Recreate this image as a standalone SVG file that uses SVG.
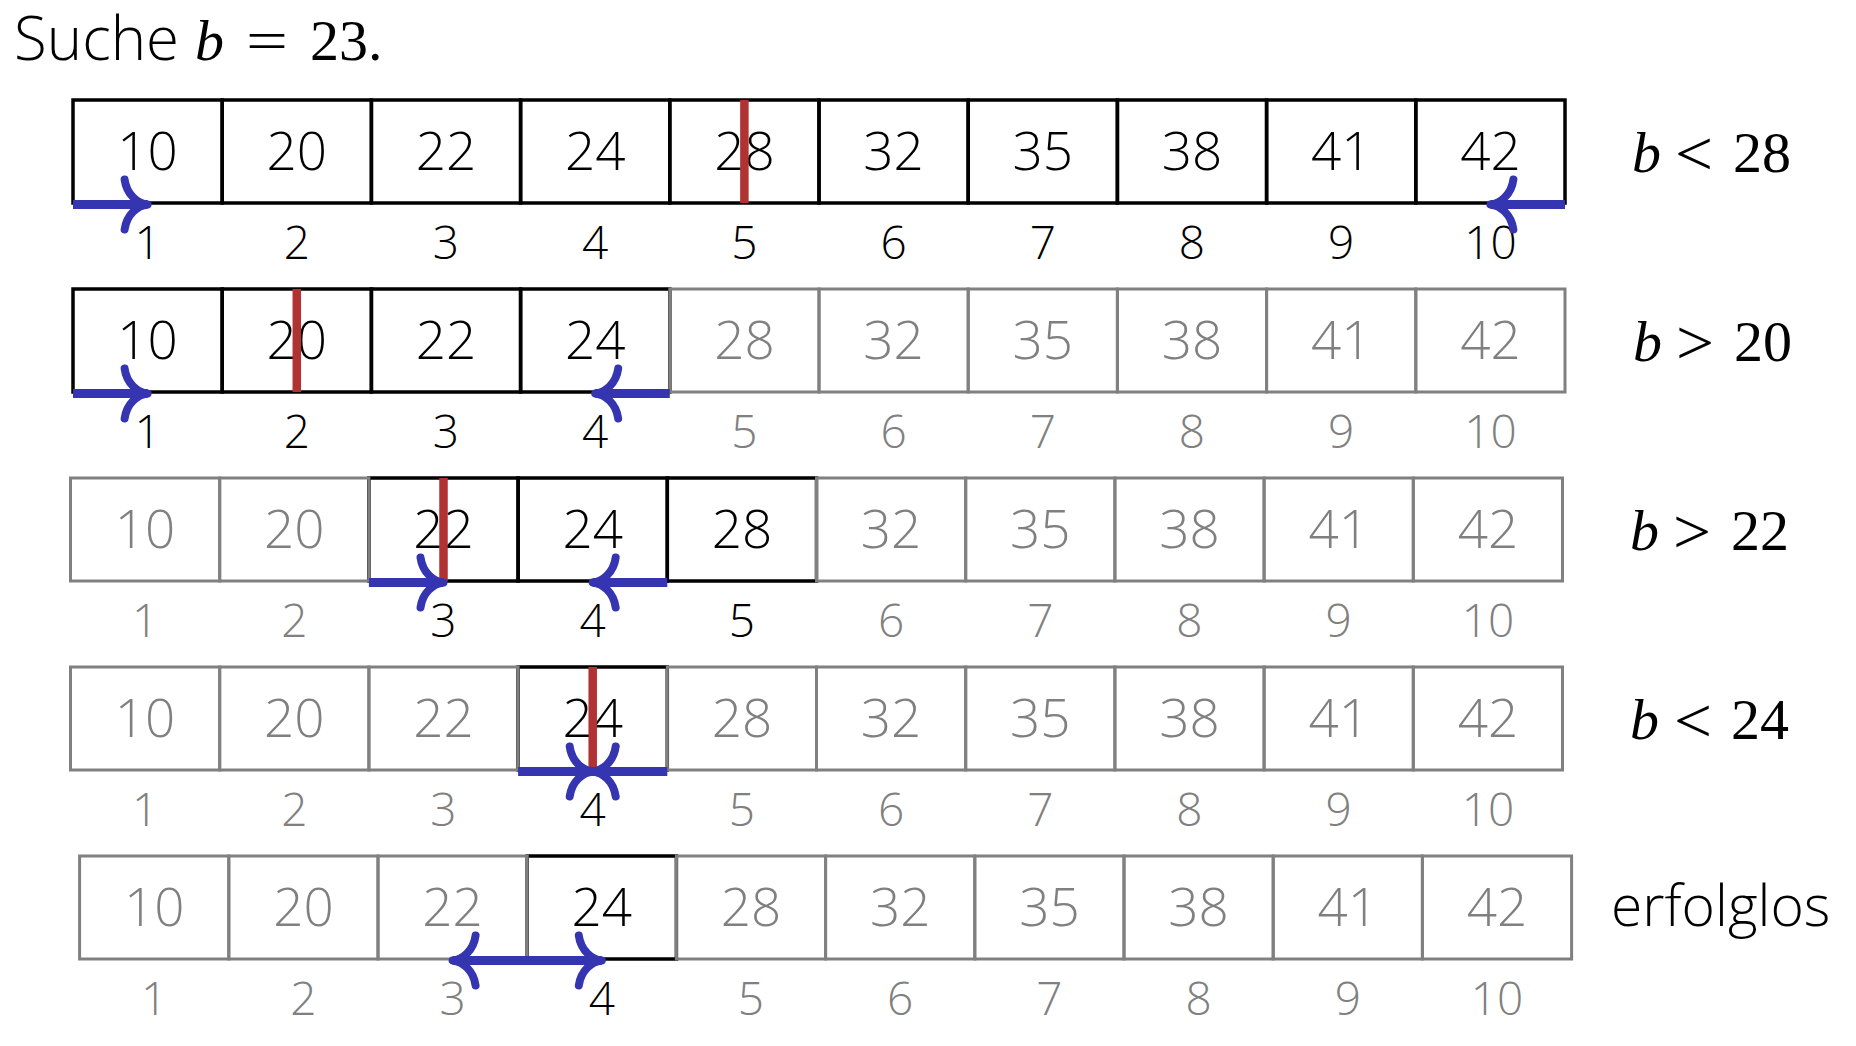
<svg xmlns="http://www.w3.org/2000/svg" width="1856" height="1046" viewBox="0 0 1856 1046">
<style>
.cb{fill:none;stroke:#000;stroke-width:3.5}
.cg{fill:none;stroke:#808080;stroke-width:3}
.v{font-family:"Open Sans","Noto Sans",sans-serif;font-weight:300;font-size:53px;text-anchor:middle}
.i{font-family:"Open Sans","Noto Sans",sans-serif;font-weight:300;font-size:46px;text-anchor:middle}
.k{fill:#000}
.g{fill:#808080}
.m{font-family:"Liberation Serif",serif;font-size:58px;fill:#000}
.it{font-style:italic}
.rel{font-family:"Liberation Serif",serif;font-size:64px;fill:#000}
.sans{font-family:"Open Sans","Noto Sans",sans-serif;font-weight:300;fill:#000}
.red{stroke:#b03232;stroke-width:8.5}
.arr{stroke:#3535b2;stroke-width:9;fill:none}
</style>
<defs>
<marker id="tip" viewBox="-32 -32 44 64" markerWidth="44" markerHeight="64" refX="0" refY="0" orient="auto-start-reverse" markerUnits="userSpaceOnUse" overflow="visible">
<path d="M-23,-25 C-21,-10 -10,-1 0,0 C-10,1 -21,10 -23,25" fill="none" stroke="#3535b2" stroke-width="8" stroke-linecap="round" stroke-linejoin="round"/>
</marker>
</defs>
<rect width="1856" height="1046" fill="#fff"/>

<g id="title">
<text class="sans" x="14" y="60" font-size="60">Suche</text>
<text class="m it" x="195" y="60" font-size="66">b</text>
<text class="m" x="246" y="60" font-size="62" textLength="42" lengthAdjust="spacingAndGlyphs">=</text>
<text class="m" x="310" y="60" font-size="62">23.</text>
</g>

<!-- Row 1 -->
<g id="row1">
<g id="r1c1"><rect class="cb" x="73" y="100" width="149.2" height="103"/><text class="v k" x="147.6" y="170">10</text><text class="i k" x="147.6" y="259">1</text></g>
<g id="r1c2"><rect class="cb" x="222.2" y="100" width="149.2" height="103"/><text class="v k" x="296.8" y="170">20</text><text class="i k" x="296.8" y="259">2</text></g>
<g id="r1c3"><rect class="cb" x="371.4" y="100" width="149.2" height="103"/><text class="v k" x="446" y="170">22</text><text class="i k" x="446" y="259">3</text></g>
<g id="r1c4"><rect class="cb" x="520.6" y="100" width="149.2" height="103"/><text class="v k" x="595.2" y="170">24</text><text class="i k" x="595.2" y="259">4</text></g>
<g id="r1c5"><rect class="cb" x="669.8" y="100" width="149.2" height="103"/><text class="v k" x="744.4" y="170">28</text><text class="i k" x="744.4" y="259">5</text></g>
<g id="r1c6"><rect class="cb" x="819" y="100" width="149.2" height="103"/><text class="v k" x="893.6" y="170">32</text><text class="i k" x="893.6" y="259">6</text></g>
<g id="r1c7"><rect class="cb" x="968.2" y="100" width="149.2" height="103"/><text class="v k" x="1042.8" y="170">35</text><text class="i k" x="1042.8" y="259">7</text></g>
<g id="r1c8"><rect class="cb" x="1117.4" y="100" width="149.2" height="103"/><text class="v k" x="1192" y="170">38</text><text class="i k" x="1192" y="259">8</text></g>
<g id="r1c9"><rect class="cb" x="1266.6" y="100" width="149.2" height="103"/><text class="v k" x="1341.2" y="170">41</text><text class="i k" x="1341.2" y="259">9</text></g>
<g id="r1c10"><rect class="cb" x="1415.8" y="100" width="149.2" height="103"/><text class="v k" x="1490.4" y="170">42</text><text class="i k" x="1490.4" y="259">10</text></g>
<g id="r1label"><text class="m it" x="1632" y="172">b</text><text class="rel" x="1675" y="175" textLength="38" lengthAdjust="spacingAndGlyphs">&lt;</text><text class="m" x="1733" y="172">28</text></g>
</g>

<!-- Row 2 -->
<g id="row2">
<g id="r2c1"><rect class="cb" x="73" y="289" width="149.2" height="103"/><text class="v k" x="147.6" y="359">10</text><text class="i k" x="147.6" y="448">1</text></g>
<g id="r2c2"><rect class="cb" x="222.2" y="289" width="149.2" height="103"/><text class="v k" x="296.8" y="359">20</text><text class="i k" x="296.8" y="448">2</text></g>
<g id="r2c3"><rect class="cb" x="371.4" y="289" width="149.2" height="103"/><text class="v k" x="446" y="359">22</text><text class="i k" x="446" y="448">3</text></g>
<g id="r2c4"><rect class="cb" x="520.6" y="289" width="149.2" height="103"/><text class="v k" x="595.2" y="359">24</text><text class="i k" x="595.2" y="448">4</text></g>
<g id="r2c5"><rect class="cg" x="669.8" y="289" width="149.2" height="103"/><text class="v g" x="744.4" y="359">28</text><text class="i g" x="744.4" y="448">5</text></g>
<g id="r2c6"><rect class="cg" x="819" y="289" width="149.2" height="103"/><text class="v g" x="893.6" y="359">32</text><text class="i g" x="893.6" y="448">6</text></g>
<g id="r2c7"><rect class="cg" x="968.2" y="289" width="149.2" height="103"/><text class="v g" x="1042.8" y="359">35</text><text class="i g" x="1042.8" y="448">7</text></g>
<g id="r2c8"><rect class="cg" x="1117.4" y="289" width="149.2" height="103"/><text class="v g" x="1192" y="359">38</text><text class="i g" x="1192" y="448">8</text></g>
<g id="r2c9"><rect class="cg" x="1266.6" y="289" width="149.2" height="103"/><text class="v g" x="1341.2" y="359">41</text><text class="i g" x="1341.2" y="448">9</text></g>
<g id="r2c10"><rect class="cg" x="1415.8" y="289" width="149.2" height="103"/><text class="v g" x="1490.4" y="359">42</text><text class="i g" x="1490.4" y="448">10</text></g>
<g id="r2label"><text class="m it" x="1633" y="361">b</text><text class="rel" x="1676" y="364" textLength="38" lengthAdjust="spacingAndGlyphs">&gt;</text><text class="m" x="1734" y="361">20</text></g>
</g>

<!-- Row 3 -->
<g id="row3">
<g id="r3c3"><rect class="cb" x="368.9" y="478" width="149.2" height="103"/><text class="v k" x="443.5" y="548">22</text><text class="i k" x="443.5" y="637">3</text></g>
<g id="r3c4"><rect class="cb" x="518.1" y="478" width="149.2" height="103"/><text class="v k" x="592.7" y="548">24</text><text class="i k" x="592.7" y="637">4</text></g>
<g id="r3c5"><rect class="cb" x="667.3" y="478" width="149.2" height="103"/><text class="v k" x="741.9" y="548">28</text><text class="i k" x="741.9" y="637">5</text></g>
<g id="r3c1"><rect class="cg" x="70.5" y="478" width="149.2" height="103"/><text class="v g" x="145.1" y="548">10</text><text class="i g" x="145.1" y="637">1</text></g>
<g id="r3c2"><rect class="cg" x="219.7" y="478" width="149.2" height="103"/><text class="v g" x="294.3" y="548">20</text><text class="i g" x="294.3" y="637">2</text></g>
<g id="r3c6"><rect class="cg" x="816.5" y="478" width="149.2" height="103"/><text class="v g" x="891.1" y="548">32</text><text class="i g" x="891.1" y="637">6</text></g>
<g id="r3c7"><rect class="cg" x="965.7" y="478" width="149.2" height="103"/><text class="v g" x="1040.3" y="548">35</text><text class="i g" x="1040.3" y="637">7</text></g>
<g id="r3c8"><rect class="cg" x="1114.9" y="478" width="149.2" height="103"/><text class="v g" x="1189.5" y="548">38</text><text class="i g" x="1189.5" y="637">8</text></g>
<g id="r3c9"><rect class="cg" x="1264.1" y="478" width="149.2" height="103"/><text class="v g" x="1338.7" y="548">41</text><text class="i g" x="1338.7" y="637">9</text></g>
<g id="r3c10"><rect class="cg" x="1413.3" y="478" width="149.2" height="103"/><text class="v g" x="1487.9" y="548">42</text><text class="i g" x="1487.9" y="637">10</text></g>
<g id="r3label"><text class="m it" x="1630" y="550">b</text><text class="rel" x="1673" y="553" textLength="38" lengthAdjust="spacingAndGlyphs">&gt;</text><text class="m" x="1731" y="550">22</text></g>
</g>

<!-- Row 4 -->
<g id="row4">
<g id="r4c4"><rect class="cb" x="518.1" y="667" width="149.2" height="103"/><text class="v k" x="592.7" y="737">24</text><text class="i k" x="592.7" y="826">4</text></g>
<g id="r4c1"><rect class="cg" x="70.5" y="667" width="149.2" height="103"/><text class="v g" x="145.1" y="737">10</text><text class="i g" x="145.1" y="826">1</text></g>
<g id="r4c2"><rect class="cg" x="219.7" y="667" width="149.2" height="103"/><text class="v g" x="294.3" y="737">20</text><text class="i g" x="294.3" y="826">2</text></g>
<g id="r4c3"><rect class="cg" x="368.9" y="667" width="149.2" height="103"/><text class="v g" x="443.5" y="737">22</text><text class="i g" x="443.5" y="826">3</text></g>
<g id="r4c5"><rect class="cg" x="667.3" y="667" width="149.2" height="103"/><text class="v g" x="741.9" y="737">28</text><text class="i g" x="741.9" y="826">5</text></g>
<g id="r4c6"><rect class="cg" x="816.5" y="667" width="149.2" height="103"/><text class="v g" x="891.1" y="737">32</text><text class="i g" x="891.1" y="826">6</text></g>
<g id="r4c7"><rect class="cg" x="965.7" y="667" width="149.2" height="103"/><text class="v g" x="1040.3" y="737">35</text><text class="i g" x="1040.3" y="826">7</text></g>
<g id="r4c8"><rect class="cg" x="1114.9" y="667" width="149.2" height="103"/><text class="v g" x="1189.5" y="737">38</text><text class="i g" x="1189.5" y="826">8</text></g>
<g id="r4c9"><rect class="cg" x="1264.1" y="667" width="149.2" height="103"/><text class="v g" x="1338.7" y="737">41</text><text class="i g" x="1338.7" y="826">9</text></g>
<g id="r4c10"><rect class="cg" x="1413.3" y="667" width="149.2" height="103"/><text class="v g" x="1487.9" y="737">42</text><text class="i g" x="1487.9" y="826">10</text></g>
<g id="r4label"><text class="m it" x="1630" y="739">b</text><text class="rel" x="1674" y="742" textLength="38" lengthAdjust="spacingAndGlyphs">&lt;</text><text class="m" x="1731" y="739">24</text></g>
</g>

<!-- Row 5 -->
<g id="row5">
<g id="r5c4"><rect class="cb" x="527.2" y="856" width="149.2" height="103"/><text class="v k" x="601.8" y="926">24</text><text class="i k" x="601.8" y="1015">4</text></g>
<g id="r5c1"><rect class="cg" x="79.6" y="856" width="149.2" height="103"/><text class="v g" x="154.2" y="926">10</text><text class="i g" x="154.2" y="1015">1</text></g>
<g id="r5c2"><rect class="cg" x="228.8" y="856" width="149.2" height="103"/><text class="v g" x="303.4" y="926">20</text><text class="i g" x="303.4" y="1015">2</text></g>
<g id="r5c3"><rect class="cg" x="378" y="856" width="149.2" height="103"/><text class="v g" x="452.6" y="926">22</text><text class="i g" x="452.6" y="1015">3</text></g>
<g id="r5c5"><rect class="cg" x="676.4" y="856" width="149.2" height="103"/><text class="v g" x="751" y="926">28</text><text class="i g" x="751" y="1015">5</text></g>
<g id="r5c6"><rect class="cg" x="825.6" y="856" width="149.2" height="103"/><text class="v g" x="900.2" y="926">32</text><text class="i g" x="900.2" y="1015">6</text></g>
<g id="r5c7"><rect class="cg" x="974.8" y="856" width="149.2" height="103"/><text class="v g" x="1049.4" y="926">35</text><text class="i g" x="1049.4" y="1015">7</text></g>
<g id="r5c8"><rect class="cg" x="1124" y="856" width="149.2" height="103"/><text class="v g" x="1198.6" y="926">38</text><text class="i g" x="1198.6" y="1015">8</text></g>
<g id="r5c9"><rect class="cg" x="1273.2" y="856" width="149.2" height="103"/><text class="v g" x="1347.8" y="926">41</text><text class="i g" x="1347.8" y="1015">9</text></g>
<g id="r5c10"><rect class="cg" x="1422.4" y="856" width="149.2" height="103"/><text class="v g" x="1497" y="926">42</text><text class="i g" x="1497" y="1015">10</text></g>
<text id="r5label" class="sans" x="1611" y="926" font-size="57">erfolglos</text>
</g>

<g id="midpoints">
<line class="red" x1="744.4" y1="100" x2="744.4" y2="203"/>
<line class="red" x1="296.8" y1="289" x2="296.8" y2="392"/>
<line class="red" x1="443.5" y1="478" x2="443.5" y2="581"/>
<line class="red" x1="592.7" y1="667" x2="592.7" y2="770"/>
</g>

<g id="connectors">
<line class="arr" x1="73" y1="204.5" x2="147.6" y2="204.5" marker-end="url(#tip)"/>
<line class="arr" x1="1565" y1="204.5" x2="1490.4" y2="204.5" marker-end="url(#tip)"/>
<line class="arr" x1="73" y1="393.5" x2="147.6" y2="393.5" marker-end="url(#tip)"/>
<line class="arr" x1="669.8" y1="393.5" x2="595.2" y2="393.5" marker-end="url(#tip)"/>
<line class="arr" x1="368.9" y1="582.5" x2="443.5" y2="582.5" marker-end="url(#tip)"/>
<line class="arr" x1="667.3" y1="582.5" x2="592.7" y2="582.5" marker-end="url(#tip)"/>
<line class="arr" x1="518.1" y1="771.5" x2="592.7" y2="771.5" marker-end="url(#tip)"/>
<line class="arr" x1="667.3" y1="771.5" x2="592.7" y2="771.5" marker-end="url(#tip)"/>
<line class="arr" x1="452.6" y1="960.5" x2="601.8" y2="960.5" marker-start="url(#tip)" marker-end="url(#tip)"/>
</g>
</svg>
